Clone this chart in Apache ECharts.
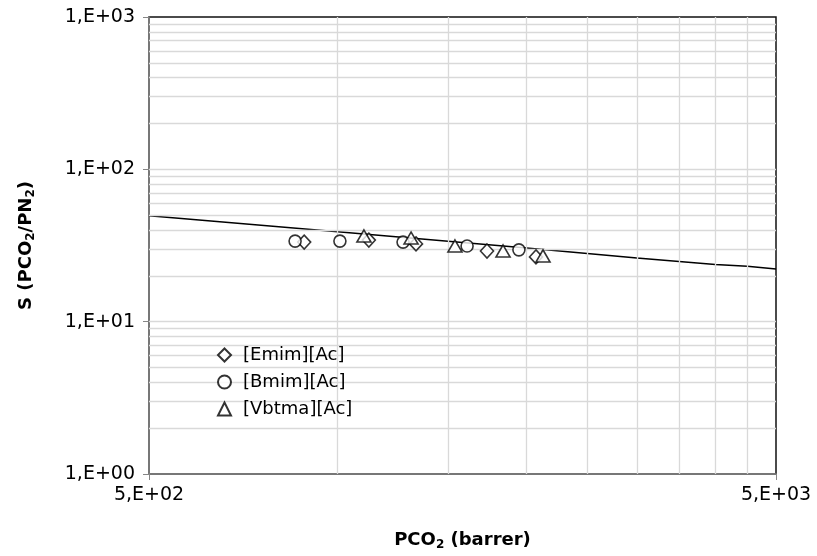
<!DOCTYPE html>
<html>
<head>
<meta charset="utf-8">
<script src="https://cdn.jsdelivr.net/npm/echarts@6/dist/echarts.min.js"></script>
<style>html,body{margin:0;padding:0;background:#fff}#c{width:817px;height:556px}</style>
</head>
<body>
<div id="c"></div>
<script>
const emimX = [884, 1121, 1333, 1730, 2071];
const emimY = [33.3, 34.3, 32.4, 29.1, 26.6];
const bmimX = [855, 1008, 1271, 1608, 1945];
const bmimY = [33.8, 33.8, 33.3, 31.4, 29.6];
const vbtmaX = [1101, 1309, 1538, 1835, 2125];
const vbtmaY = [36.5, 35.4, 31.4, 29.1, 27.0];
const boundX = [500, 1000, 2000, 3000, 4000, 4500, 5000];
const boundY = [49.5, 38.9, 30.5, 26.2, 23.7, 23.1, 22.2];
const xTicks = [500, 5000];
const yTicks = [1, 10, 100, 1000];
const xGrid = [1000, 1500, 2000, 2500, 3000, 3500, 4000, 4500];
const yGrid = [2,3,4,5,6,7,8,9,10,20,30,40,50,60,70,80,90,100,200,300,400,500,600,700,800,900];
const names = ['[Emim][Ac]', '[Bmim][Ac]', '[Vbtma][Ac]'];

function fmt(v) {
  const e = Math.floor(Math.log10(v) + 1e-9);
  const m = Math.round(v / Math.pow(10, e));
  return m + ',E+' + (e < 10 ? '0' + e : e);
}
function pairs(xs, ys) { return xs.map((x, i) => [x, ys[i]]); }

const font = 'DejaVu Sans';
const chart = echarts.init(document.getElementById('c'));
const gridLineStyle = { color: '#d9d9d9', width: 1.3, type: 'solid' };
const markerStyle = { color: '#fff', borderColor: '#000', borderWidth: 1.6 };

chart.setOption({
  animation: false,
  grid: { left: 149, right: 41, top: 17, bottom: 80, show: true, borderColor: '#111', borderWidth: 1.5, backgroundColor: 'transparent' },
  xAxis: {
    type: 'log', logBase: 10, min: 500, max: 5000,
    name: '{b|PCO}{s|2}{b| (barrer)}', nameLocation: 'middle', nameGap: 55,
    nameTextStyle: { rich: {
      b: { fontFamily: font, fontWeight: 'bold', fontSize: 18, color: '#000' },
      s: { fontFamily: font, fontWeight: 'bold', fontSize: 12, color: '#000', padding: [10, 0, 0, 0] }
    } },
    axisLine: { show: true, lineStyle: { color: '#868686', width: 1.5 } },
    axisTick: { show: true, inside: false, length: 6, customValues: xTicks, lineStyle: { color: '#868686' } },
    axisLabel: { show: true, customValues: xTicks, formatter: fmt, fontFamily: font, fontSize: 19, color: '#000', margin: 12 },
    splitLine: { show: false }, minorTick: { show: false }
  },
  yAxis: {
    type: 'log', logBase: 10, min: 1, max: 1000,
    name: '{b|S (PCO}{s|2}{b|/PN}{s|2}{b|)}', nameLocation: 'middle', nameGap: 112, nameRotate: 90,
    nameTextStyle: { rich: {
      b: { fontFamily: font, fontWeight: 'bold', fontSize: 18, color: '#000' },
      s: { fontFamily: font, fontWeight: 'bold', fontSize: 12, color: '#000', padding: [10, 0, 0, 0] }
    } },
    axisLine: { show: true, lineStyle: { color: '#868686', width: 1.5 } },
    axisTick: { show: true, length: 6, customValues: yTicks, lineStyle: { color: '#868686' } },
    axisLabel: { show: true, customValues: yTicks, formatter: fmt, fontFamily: font, fontSize: 19, color: '#000', margin: 14 },
    splitLine: { show: false }, minorTick: { show: false }
  },
  legend: {
    z: 20, orient: 'vertical', left: 212, top: 341, itemGap: 9, itemWidth: 13, itemHeight: 13,
    textStyle: { fontFamily: font, fontSize: 18, color: '#000', padding: [0, 0, 0, 7] },
    data: [
      { name: names[0], icon: 'diamond' },
      { name: names[1], icon: 'circle' },
      { name: names[2], icon: 'triangle' }
    ]
  },
  series: [
    {
      name: 'grid', type: 'line', data: [], z: 1, silent: true,
      markLine: {
        silent: true, symbol: 'none', label: { show: false }, lineStyle: gridLineStyle, animation: false,
        data: yGrid.map(v => ({ yAxis: v })).concat(xGrid.map(v => ({ xAxis: v })))
      }
    },
    {
      name: 'bound', type: 'line', data: pairs(boundX, boundY), z: 3, showSymbol: false, symbol: 'none',
      lineStyle: { color: '#000', width: 1.5 }, silent: true
    },
    { name: names[0], type: 'scatter', symbol: 'diamond', symbolSize: [13, 14], data: pairs(emimX, emimY), itemStyle: markerStyle, z: 5 },
    { name: names[1], type: 'scatter', symbol: 'circle', symbolSize: 12, data: pairs(bmimX, bmimY), itemStyle: markerStyle, z: 5 },
    { name: names[2], type: 'scatter', symbol: 'triangle', symbolSize: [14, 12], data: pairs(vbtmaX, vbtmaY), itemStyle: markerStyle, z: 5 }
  ]
});
</script>
</body>
</html>
